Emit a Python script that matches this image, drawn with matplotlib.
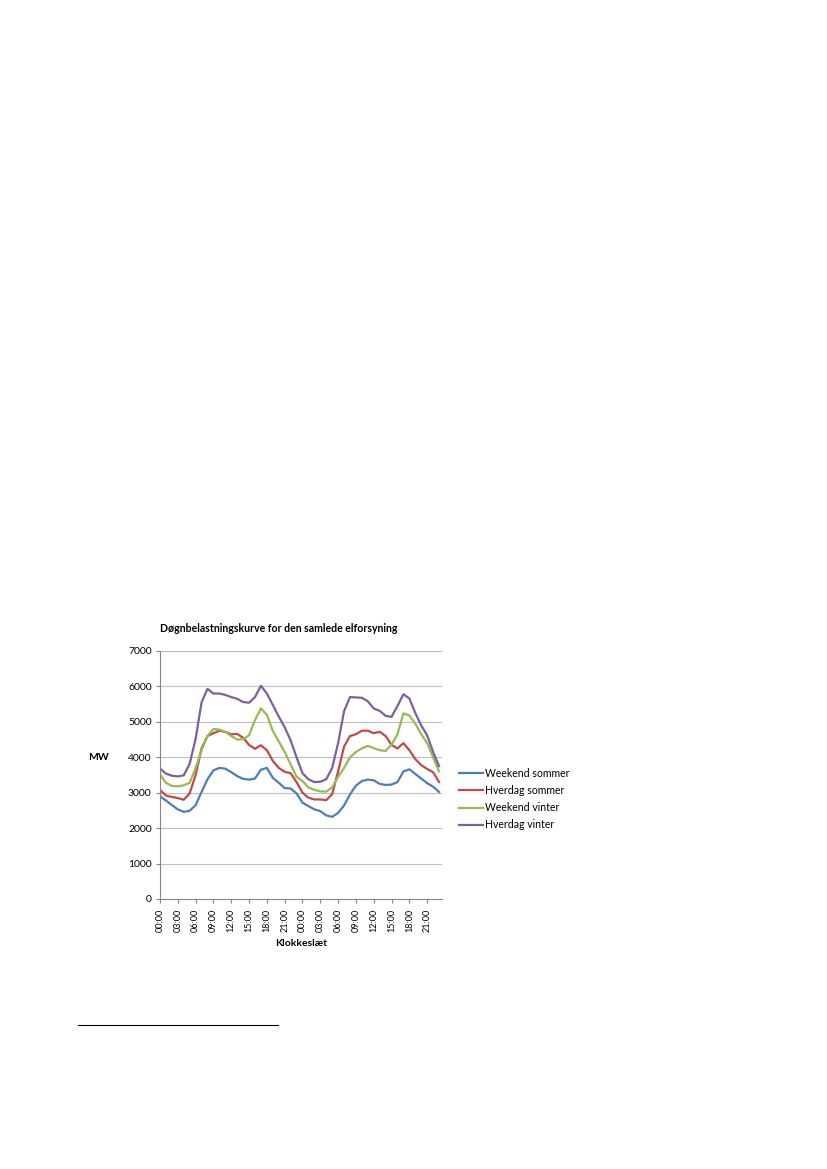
import numpy as np
import matplotlib
matplotlib.use("Agg")
import matplotlib.pyplot as plt
from matplotlib.lines import Line2D

plt.rcParams['font.family'] = ['Lato', 'DejaVu Sans']

# hourly values over two days (MW)
hours = np.arange(48)
tick_labels = ["%02d:00" % h for h in range(0, 24, 3)] * 2

weekend_sommer = [2900, 2780, 2650, 2530, 2460, 2490, 2650, 3020, 3380, 3630,
                  3700, 3680, 3580, 3470, 3390, 3370, 3400, 3650, 3700, 3420,
                  3280, 3130, 3120, 2980, 2720, 2620, 2530, 2480, 2360, 2320,
                  2430, 2640, 2950, 3200, 3330, 3370, 3350, 3250, 3220, 3230,
                  3300, 3600, 3660, 3530, 3400, 3270, 3170, 3020]
hverdag_sommer = [3080, 2920, 2880, 2850, 2800, 2980, 3500, 4250, 4600, 4680,
                  4750, 4720, 4650, 4660, 4550, 4350, 4240, 4340, 4200, 3900,
                  3700, 3590, 3550, 3300, 3000, 2860, 2810, 2810, 2790, 2960,
                  3600, 4300, 4600, 4650, 4750, 4750, 4680, 4720, 4600, 4350,
                  4250, 4400, 4200, 3950, 3780, 3670, 3580, 3300]
weekend_vinter = [3510, 3280, 3190, 3180, 3210, 3280, 3700, 4200, 4600, 4800,
                  4780, 4720, 4600, 4500, 4510, 4620, 5050, 5380, 5200, 4750,
                  4450, 4150, 3800, 3450, 3330, 3150, 3080, 3040, 3030, 3150,
                  3450, 3700, 4000, 4150, 4250, 4320, 4260, 4200, 4180, 4350,
                  4650, 5240, 5180, 4950, 4650, 4400, 4000, 3600]
hverdag_vinter = [3680, 3540, 3480, 3460, 3490, 3820, 4520, 5550, 5930, 5800,
                  5800, 5760, 5700, 5650, 5560, 5540, 5700, 6020, 5800, 5480,
                  5150, 4850, 4480, 4000, 3550, 3380, 3300, 3310, 3380, 3700,
                  4400, 5300, 5700, 5690, 5680, 5580, 5380, 5310, 5170, 5140,
                  5450, 5780, 5660, 5250, 4900, 4620, 4150, 3750]

series = [
    ("Weekend sommer", weekend_sommer, "#4A7EBB"),
    ("Hverdag sommer", hverdag_sommer, "#BE4B48"),
    ("Weekend vinter", weekend_vinter, "#98B954"),
    ("Hverdag vinter", hverdag_vinter, "#7D60A0"),
]

W, H = 827, 1169
fig = plt.figure(figsize=(W / 100, H / 100), dpi=100)
ax = fig.add_axes([160 / W, 1 - 899 / H, 282 / W, 248 / H])

for name, vals, col in series:
    ax.plot(hours, vals, color=col, lw=1.6, label=name, solid_joinstyle='round')

ax.set_xlim(0, 47.5)
ax.set_ylim(0, 7000)
ax.set_yticks(range(0, 7001, 1000))
ax.set_xticks(range(0, 48, 3))
ax.set_xticklabels(tick_labels, rotation=90, fontsize=6.5)
ax.tick_params(axis='y', labelsize=7.5, length=3, color='#868686', pad=3)
ax.tick_params(axis='x', length=3, color='#868686', pad=4)
ax.grid(axis='y', color='#BFBFBF', lw=0.8)
ax.set_axisbelow(True)
for s in ['top', 'right']:
    ax.spines[s].set_visible(False)
for s in ['left', 'bottom']:
    ax.spines[s].set_color('#868686')
    ax.spines[s].set_linewidth(0.8)

fig.text(160 / W, 1 - 628 / H, "Døgnbelastningskurve for den samlede elforsyning",
         fontsize=7.6, fontweight='bold', va='center', ha='left')
fig.text(88 / W, 1 - 758 / H, "MW", fontsize=7.5, fontweight='bold', va='center')
fig.text(301 / W, 1 - 943 / H, "Klokkeslæt", fontsize=7.5, fontweight='bold',
         va='center', ha='center')

handles = [Line2D([], [], color=c, lw=1.6) for _, _, c in series]
fig.legend(handles, [n for n, _, _ in series], loc='upper left',
           bbox_to_anchor=(459 / W, 1 - 768 / H), frameon=False, fontsize=7.6,
           handlelength=2.3, handletextpad=0.2, labelspacing=0.58,
           borderaxespad=0, borderpad=0)

# footnote separator line
fig.add_artist(Line2D([78 / W, 278 / W], [1 - 1025 / H, 1 - 1025 / H],
                      color='black', lw=0.8))

fig.savefig("out.png", dpi=100)
